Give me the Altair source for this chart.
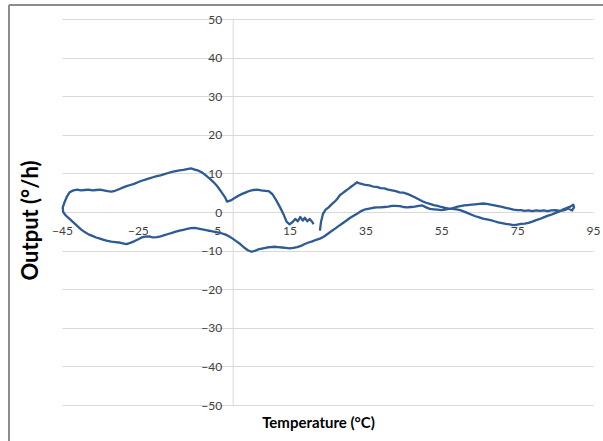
import altair as alt
import pandas as pd

temperature = [
    23.0, 23.3, 23.8, 24.5, 25.3, 26.0, 26.8, 27.5, 28.3, 29.0, 29.8, 30.5, 31.3, 32.0, 32.8, 33.4,
    34.0, 35.0, 36.0, 37.0, 38.0, 39.0, 40.0, 41.0, 42.0, 43.0, 44.0, 45.0, 46.0, 47.0, 48.0, 49.0,
    50.0, 51.0, 52.0, 53.0, 54.0, 55.0, 56.0, 57.0, 58.0, 59.0, 60.0, 61.0, 62.0, 63.0, 64.0, 65.0,
    66.0, 67.0, 68.0, 69.0, 70.0, 71.0, 72.0, 73.0, 74.0, 75.0, 76.0, 77.0, 78.0, 79.0, 80.0, 81.0,
    82.0, 83.0, 84.0, 85.0, 86.0, 87.0, 88.0, 89.0, 89.8, 90.0, 89.5, 88.5, 87.5, 86.5, 85.0, 84.0,
    83.0, 82.0, 81.0, 80.0, 79.0, 78.0, 77.0, 76.0, 75.0, 74.0, 73.0, 72.0, 71.0, 70.0, 69.0, 68.0,
    67.0, 66.0, 65.0, 64.0, 63.0, 62.0, 61.0, 60.0, 59.0, 58.0, 57.0, 56.0, 55.0, 54.0, 53.0, 52.0,
    51.0, 50.0, 49.0, 48.0, 47.0, 46.0, 45.0, 44.0, 43.0, 42.0, 41.0, 40.0, 39.0, 38.0, 37.0, 36.0,
    35.0, 34.0, 33.0, 32.0, 31.0, 30.0, 29.0, 28.0, 27.0, 26.0, 25.0, 24.0, 23.0, 22.0, 21.0, 20.0,
    19.0, 18.0, 17.0, 16.0, 15.0, 14.0, 13.0, 12.0, 11.0, 10.0, 9.0, 8.0, 7.0, 6.0, 5.0, 4.0,
    3.0, 2.0, 1.0, 0.0, -1.0, -2.0, -3.0, -4.0, -5.0, -6.0, -7.0, -8.0, -9.0, -10.0, -11.0, -12.0,
    -13.0, -14.0, -15.0, -16.0, -17.0, -18.0, -19.0, -20.0, -21.0, -22.0, -23.0, -24.0, -25.0, -26.0, -27.0, -28.0,
    -29.0, -30.0, -31.0, -32.0, -33.0, -34.0, -35.0, -36.0, -37.0, -38.0, -39.0, -40.0, -41.0, -42.0, -43.0, -44.0,
    -44.7, -44.8, -44.3, -43.7, -43.0, -42.0, -41.0, -40.0, -39.0, -38.0, -37.0, -36.0, -35.0, -34.0, -33.0, -32.0,
    -31.0, -30.0, -29.0, -28.0, -27.0, -26.0, -25.0, -24.0, -23.0, -22.0, -21.0, -20.0, -19.0, -18.0, -17.0, -16.0,
    -15.0, -14.0, -13.0, -12.0, -11.0, -10.0, -9.0, -8.0, -7.0, -6.0, -5.0, -4.0, -3.0, -2.0, -1.5, -0.5,
    0.5, 1.5, 2.5, 3.5, 4.5, 5.5, 6.5, 7.5, 8.5, 9.5, 10.5, 11.5, 12.5, 13.5, 14.2, 15.0,
    15.8, 16.5, 17.2, 17.8, 18.5, 19.0, 19.7, 20.3, 21.0, 21.3,
]

output = [
    -4.8, -2.5, -0.5, 0.6, 1.2, 1.9, 2.6, 3.3, 4.4, 4.9, 5.5, 6.0, 6.6, 7.1, 7.7, 7.4,
    7.3, 7.0, 6.9, 6.6, 6.5, 6.2, 6.1, 5.8, 5.6, 5.4, 5.1, 5.0, 4.7, 4.3, 3.8, 3.3,
    2.8, 2.4, 2.1, 1.8, 1.6, 1.3, 1.1, 0.9, 0.8, 0.7, 0.5, 0.1, -0.3, -0.7, -1.1, -1.4,
    -1.7, -1.9, -2.1, -2.4, -2.7, -2.9, -3.1, -3.2, -3.4, -3.3, -3.1, -3.0, -2.8, -2.5, -2.1, -1.8,
    -1.4, -1.0, -0.7, -0.3, 0.1, 0.6, 1.0, 1.4, 1.9, 1.2, 0.4, 0.9, 0.5, 0.3, 0.5, 0.4,
    0.2, 0.4, 0.3, 0.4, 0.2, 0.4, 0.3, 0.5, 0.5, 0.6, 0.9, 1.1, 1.3, 1.5, 1.7, 1.9,
    2.1, 2.2, 2.1, 2.0, 1.9, 1.8, 1.7, 1.5, 1.3, 1.0, 0.8, 0.6, 0.5, 0.6, 0.7, 0.8,
    1.2, 1.7, 1.6, 1.4, 1.3, 1.2, 1.3, 1.5, 1.6, 1.6, 1.4, 1.3, 1.2, 1.2, 1.1, 0.9,
    0.7, 0.3, -0.3, -0.9, -1.5, -2.2, -2.9, -3.6, -4.3, -5.0, -5.7, -6.4, -6.9, -7.2, -7.6, -7.9,
    -8.3, -8.8, -9.1, -9.3, -9.4, -9.3, -9.2, -9.1, -9.0, -9.1, -9.2, -9.4, -9.6, -10.0, -10.3, -9.9,
    -9.2, -8.3, -7.6, -6.9, -6.3, -5.8, -5.5, -5.3, -5.1, -4.9, -4.7, -4.5, -4.3, -4.1, -4.2, -4.4,
    -4.6, -4.8, -5.1, -5.4, -5.7, -6.0, -6.3, -6.5, -6.6, -6.3, -6.4, -6.6, -7.1, -7.6, -8.0, -8.3,
    -8.1, -7.9, -7.8, -7.7, -7.5, -7.2, -6.9, -6.6, -6.2, -5.8, -5.2, -4.5, -3.6, -2.7, -1.8, -0.9,
    0.0, 1.2, 2.6, 4.0, 5.1, 5.6, 5.8, 5.6, 5.7, 5.8, 5.6, 5.7, 5.8, 5.6, 5.4, 5.3,
    5.5, 5.9, 6.3, 6.7, 7.0, 7.3, 7.7, 8.1, 8.4, 8.7, 9.0, 9.3, 9.5, 9.8, 10.1, 10.4,
    10.6, 10.8, 10.9, 11.1, 11.3, 11.0, 10.7, 10.2, 9.4, 8.6, 7.7, 6.6, 5.2, 3.8, 2.7, 3.0,
    3.6, 4.2, 4.7, 5.1, 5.5, 5.7, 5.8, 5.6, 5.5, 5.4, 4.6, 3.0, 1.2, -0.8, -2.5, -3.2,
    -2.6, -1.8, -2.4, -1.3, -2.2, -1.5, -2.4, -1.8, -2.6, -3.2,
]

x_ticks = [-45, -25, -5, 15, 35, 55, 75, 95]
y_ticks = [-50, -40, -30, -20, -10, 0, 10, 20, 30, 40, 50]

W, H = 531, 386
x_dom = [-45, 95]
y_dom = [-50, 50]
x_zero_px = (0 - x_dom[0]) / (x_dom[1] - x_dom[0]) * W
y_zero_px = (y_dom[1] - 0) / (y_dom[1] - y_dom[0]) * H

df = pd.DataFrame({"t": temperature, "o": output, "i": list(range(len(temperature)))})

FONT = "Lato"

line = alt.Chart(df).mark_line(color="#2e5b93", strokeWidth=2.3, strokeJoin="round").encode(
    x=alt.X(
        "t:Q",
        scale=alt.Scale(domain=x_dom, nice=False, zero=False),
        axis=alt.Axis(
            values=x_ticks, grid=False, domain=False, ticks=False, tickSize=0,
            labelPadding=13, offset=-y_zero_px, labelFont=FONT, labelFontSize=12,
            labelColor="#404040", labelFlush=False, labelOverlap=False,
            title="Temperature (°C)", titleFont=FONT, titleFontSize=15, titleFontWeight="bold",
            titleColor="#000000", titleX=256, titleY=H - y_zero_px + 17,
            titleBaseline="middle", titleAlign="center",
        ),
    ),
    y=alt.Y(
        "o:Q",
        scale=alt.Scale(domain=y_dom, nice=False),
        axis=alt.Axis(
            values=y_ticks, grid=True, gridColor="#d9d9d9", gridWidth=1,
            domain=True, domainColor="#d9d9d9", ticks=False, tickSize=0,
            labelPadding=11, offset=-x_zero_px, labelFont=FONT, labelFontSize=12,
            labelColor="#404040", labelOverlap=False, labelFlush=False,
            title="Output (°/h)", titleFont=FONT, titleFontSize=22, titleFontWeight="bold",
            titleColor="#000000", titleX=-(x_zero_px + 32), titleY=201,
            titleAngle=270, titleAlign="center", titleBaseline="middle",
        ),
    ),
    order="i:Q",
)

frame_left = alt.Chart(df).mark_rule(color="#8c8c8c", strokeWidth=1.5).encode(
    x=alt.value(-53), y=alt.value(-14), y2=alt.value(H + 36)
)
frame_top = alt.Chart(df).mark_rule(color="#8c8c8c", strokeWidth=1.5).encode(
    x=alt.value(-53), x2=alt.value(W + 10), y=alt.value(-14)
)

chart = alt.layer(frame_left, frame_top, line).properties(
    width=W, height=H,
    autosize=alt.AutoSizeParams(type="none"),
    padding={"left": 62, "top": 19, "right": 10, "bottom": 36},
    background="white",
).configure_view(stroke=None)

chart.save("out.html", embed_options={"renderer": "svg", "actions": False})
